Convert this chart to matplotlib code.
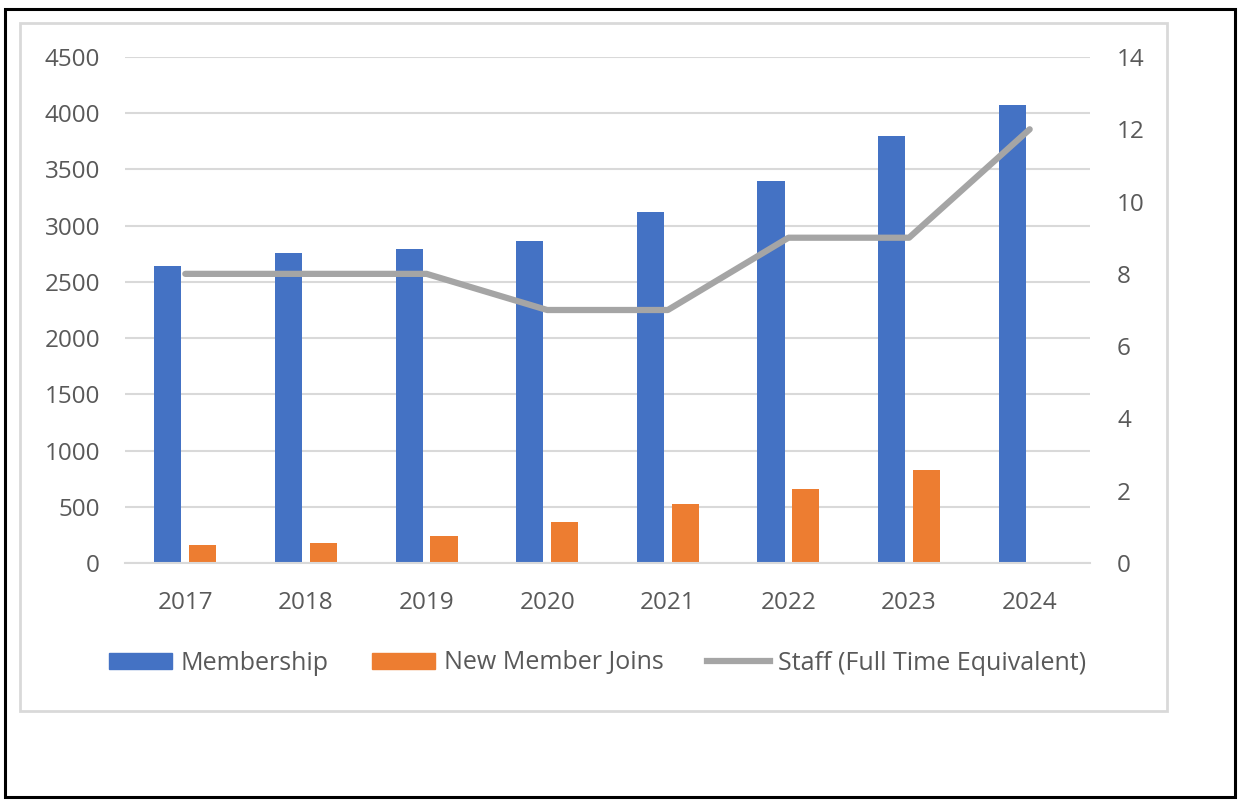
import numpy as np
import matplotlib.pyplot as plt
from matplotlib.patches import Rectangle
from matplotlib.lines import Line2D

# Data
years = ["2017", "2018", "2019", "2020", "2021", "2022", "2023", "2024"]
membership = [2640, 2760, 2790, 2860, 3120, 3400, 3800, 4070]
new_joins = [160, 175, 240, 365, 525, 658, 827, 0]
staff_fte = [8, 8, 8, 7, 7, 9, 9, 12]

blue = "#4472C4"
orange = "#ED7D31"
grey = "#A5A5A5"
grid_col = "#D9D9D9"
text_col = "#595959"
fs = 17.5

plt.rcParams["font.family"] = ["Open Sans", "DejaVu Sans"]

fig = plt.figure(figsize=(12.42, 8.02), dpi=100)

# Outer black frame and inner chart frame
W, H = 1242, 802
fig.patches.append(Rectangle((5 / W, 1 - 797 / H), (1235 - 5) / W, (797 - 9) / H,
                             transform=fig.transFigure, fill=False, edgecolor="black", linewidth=2.2))
fig.patches.append(Rectangle((20 / W, 1 - 711 / H), (1167 - 20) / W, (711 - 23) / H,
                             transform=fig.transFigure, fill=False, edgecolor=grid_col, linewidth=2.0))

ax = fig.add_axes([125 / W, 1 - 563 / H, (1090 - 125) / W, (563 - 57) / H])
ax2 = ax.twinx()

x = np.arange(len(years))
w = 0.225
ax.bar(x - 0.145, membership, w, color=blue, zorder=2, label="Membership")
ax.bar(x + 0.145, new_joins, w, color=orange, zorder=2, label="New Member Joins")
ax2.plot(x, staff_fte, color=grey, linewidth=4.5, solid_capstyle="round", zorder=3,
         label="Staff (Full Time Equivalent)")

ax.set_xlim(-0.5, len(years) - 0.5)
ax.set_ylim(0, 4500)
ax.set_yticks(np.arange(0, 4501, 500))
ax2.set_ylim(0, 14)
ax2.set_yticks(np.arange(0, 15, 2))
ax.set_xticks(x)
ax.set_xticklabels(years)

ax.yaxis.grid(True, color=grid_col, linewidth=1.5, zorder=0)
ax.set_axisbelow(True)
for a in (ax, ax2):
    for s in a.spines.values():
        s.set_visible(False)
    a.tick_params(length=0, labelsize=fs, labelcolor=text_col)
ax.spines["bottom"].set_visible(True)
ax.spines["bottom"].set_color(grid_col)
ax.spines["bottom"].set_linewidth(1.5)
ax.tick_params(axis="y", pad=18)
ax.tick_params(axis="x", pad=20)
ax2.tick_params(axis="y", pad=19.5)
ax.set_zorder(ax2.get_zorder() - 1)
ax.patch.set_visible(False)

handles = [Rectangle((0, 0), 1, 1, color=blue),
           Rectangle((0, 0), 1, 1, color=orange),
           Line2D([0], [0], color=grey, linewidth=4.5)]
labels = ["Membership", "New Member Joins", "Staff (Full Time Equivalent)"]
fig.legend(handles, labels, loc="center", bbox_to_anchor=(598 / W, 1 - 663 / H), ncol=3,
           frameon=False, fontsize=18, labelcolor=text_col, handlelength=2.5, handleheight=0.6,
           handletextpad=0.35, columnspacing=1.75)

fig.savefig("out.png", dpi=100)
